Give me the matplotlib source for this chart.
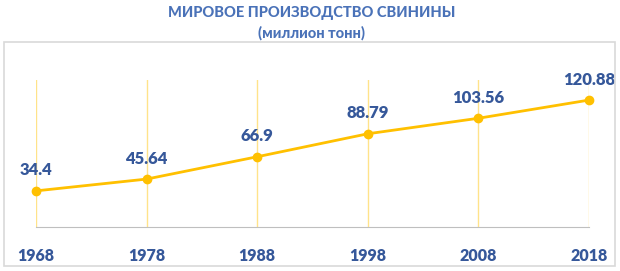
import matplotlib.pyplot as plt
from matplotlib.patches import Rectangle

years = ["1968", "1978", "1988", "1998", "2008", "2018"]
production = [34.4, 45.64, 66.9, 88.79, 103.56, 120.88]
value_labels = ["34.4", "45.64", "66.9", "88.79", "103.56", "120.88"]

blue = "#36589A"
gold = "#FFC000"

plt.rcParams['font.family'] = ['Lato', 'DejaVu Sans']

fig = plt.figure(figsize=(6.2, 2.71), dpi=100)
W, H = 620, 271

# outer frame of the chart area
fig.patches.append(Rectangle((4 / W, 1 - 266 / H), 611 / W, 224 / H,
                             transform=fig.transFigure, fill=False,
                             edgecolor="#D9D9D9", linewidth=1.2))

fig.text(312 / W, 1 - 13 / H, "МИРОВОЕ ПРОИЗВОДСТВО СВИНИНЫ", ha="center",
         va="center", color="#4A72B8", fontsize=10.5, fontweight="black")
fig.text(311 / W, 1 - 33 / H, "(миллион тонн)", ha="center", va="center",
         color="#4A72B8", fontsize=10.5, fontweight="black")

ax = fig.add_axes([36 / W, 1 - 227 / H, (589 - 36) / W, (227 - 80) / H])
x = list(range(len(years)))
ax.plot(x, production, color=gold, linewidth=2, marker="o", markersize=6,
        clip_on=False, zorder=3)
for xi in x:
    ax.axvline(xi, color="#FFE38A", linewidth=1, zorder=1)

for xi, v, lab in zip(x, production, value_labels):
    ax.annotate(lab, (xi, v), xytext=(0, 9), textcoords="offset points",
                ha="center", va="bottom", color=blue, fontsize=12,
                fontweight="heavy")

ax.set_xlim(0, 5)
ax.set_ylim(0, 140)
ax.set_yticks([])
ax.set_xticks(x)
ax.set_xticklabels(years, color=blue, fontsize=11.5, fontweight="heavy")
ax.tick_params(axis="x", length=0, pad=15)
for s in ["top", "right", "left"]:
    ax.spines[s].set_visible(False)
ax.spines["bottom"].set_color("#BFBFBF")
ax.patch.set_alpha(0)

fig.savefig("out.png", dpi=100)
